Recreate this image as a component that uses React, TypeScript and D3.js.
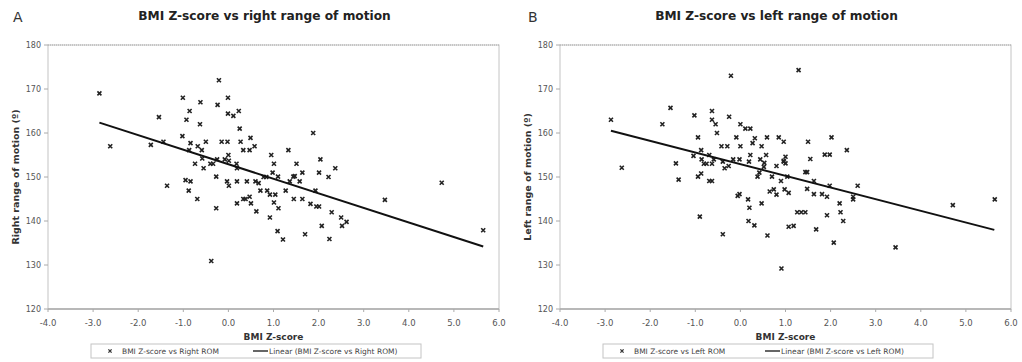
import React from "react";
import * as d3 from "d3";

// ---------- data ----------
const rightX = [-2.86,-2.62,-1.54,-1.72,-1.44,-1.02,-1.01,-0.86,-0.93,-0.62,-0.63,-0.84,-0.68,-0.59,-0.50,-0.87,-0.21,-0.24,-0.01,-0.01,0.11,0.23,0.25,-0.15,-0.02,0.27,0.49,0.33,0.47,0.58,0.00,-0.58,-0.55,-0.74,-0.40,-0.34,-0.27,-0.25,-0.08,0.01,0.18,0.19,-0.95,-0.84,-1.36,-0.03,0.01,0.19,0.41,0.60,0.67,0.78,0.84,0.95,1.01,0.98,1.10,1.33,1.36,-0.88,-0.69,-0.27,-0.38,0.19,0.33,0.38,0.47,0.50,0.62,0.71,0.86,0.92,1.04,1.01,1.11,0.92,1.09,1.21,1.27,2.04,2.37,1.51,1.64,2.01,2.22,1.47,1.44,1.58,1.93,1.45,1.64,1.82,1.95,2.01,2.29,2.50,2.62,2.07,2.52,1.70,2.24,3.47,4.73,5.65,1.88];
const rightY = [169.0,157.0,163.6,157.3,158.0,159.3,168.0,165.0,163.0,167.0,162.0,157.7,157.0,156.1,158.0,156.1,172.0,166.4,168.0,164.4,163.9,165.0,161.0,158.0,158.0,158.0,158.9,156.1,156.1,157.0,155.0,154.2,152.0,153.0,153.0,153.0,150.1,154.0,154.0,153.7,153.0,152.0,149.3,149.0,148.0,149.0,148.0,149.0,149.0,149.0,148.6,150.0,150.0,155.0,153.0,151.0,150.1,156.1,149.0,146.9,145.0,142.9,130.9,144.0,145.0,145.0,145.5,144.0,142.2,146.9,146.9,146.0,146.0,144.2,142.9,140.8,137.7,135.8,146.9,154.0,152.0,153.0,151.0,151.0,150.0,150.2,150.1,149.0,146.9,145.0,145.0,143.9,143.3,143.3,142.0,140.8,139.8,138.9,138.9,137.0,135.9,144.8,148.7,137.9,160.0];

const leftX = [-2.87,-2.63,-1.55,-1.73,-1.43,-1.37,-1.02,-0.63,-0.63,-0.55,-0.52,-0.21,-0.25,-0.94,-0.87,-1.04,-0.86,-0.69,-0.81,-0.75,-0.63,-0.59,-0.42,-0.29,-0.09,0.00,0.11,0.22,0.00,-0.39,-0.35,-0.26,-0.16,-0.02,0.22,0.19,0.32,0.27,0.47,0.59,0.57,0.85,0.96,0.44,0.53,0.52,0.80,0.96,1.00,-0.94,-0.87,-0.69,-0.63,0.42,0.38,0.70,0.90,1.04,-0.90,-0.39,-0.06,-0.02,0.17,0.20,0.18,0.31,0.47,0.60,0.65,0.74,0.80,0.98,1.07,1.07,0.91,1.29,1.50,2.02,2.36,1.87,1.98,1.00,1.55,1.44,1.48,1.63,1.98,2.60,1.48,1.63,1.81,1.92,2.20,2.50,2.50,2.22,2.28,1.26,1.35,1.44,1.92,1.18,1.68,2.07,3.44,4.71,5.64,0.96];
const leftY = [163.0,152.1,165.7,162.0,153.1,149.4,164.0,165.0,163.0,162.0,160.0,173.0,163.7,159.0,156.1,154.8,154.0,155.0,153.0,153.0,153.0,154.0,157.0,157.0,159.0,162.0,161.0,161.0,157.0,153.5,152.0,152.5,154.0,154.0,155.0,153.5,158.8,157.7,157.0,159.0,155.0,159.0,158.0,154.0,153.2,152.3,152.5,153.5,154.6,150.1,150.8,149.1,149.1,151.0,150.1,150.1,149.1,150.1,141.0,137.0,145.7,146.1,144.9,143.0,140.0,139.0,144.0,136.7,146.7,147.2,146.0,147.2,146.4,138.7,129.2,174.3,158.0,159.0,156.1,155.1,155.1,153.1,154.1,151.1,151.1,149.1,148.0,148.0,147.3,146.1,146.1,145.5,144.0,145.5,144.9,142.0,140.0,142.0,142.0,142.0,141.3,138.9,138.1,135.1,134.0,143.6,144.9,153.7];

// trend lines (slope, intercept, x-extent)
const rightTrend = { slope: -3.31, intercept: 152.9, from: -2.86, to: 5.65 };
const leftTrend = { slope: -2.65, intercept: 152.9, from: -2.87, to: 5.63 };

const xTicks = [-4, -3, -2, -1, 0, 1, 2, 3, 4, 5, 6];
const yTicks = [120, 130, 140, 150, 160, 170, 180];

const FONT = "'DejaVu Sans', Verdana, sans-serif";

type PanelProps = {
  letter: string;
  letterX: number;
  title: string;
  yLabel: string;
  seriesName: string;
  xs: number[];
  ys: number[];
  trend: { slope: number; intercept: number; from: number; to: number };
  left: number;
  right: number;
  legendX0: number;
  legendX1: number;
};

function Panel(p: PanelProps) {
  const top = 45;
  const bottom = 309;
  const x = d3.scaleLinear().domain([-4, 6]).range([p.left, p.right]);
  const y = d3.scaleLinear().domain([120, 180]).range([bottom, top]);
  const cx = (p.left + p.right) / 2;
  const lineGen = d3
    .line<number>()
    .x((d) => x(d))
    .y((d) => y(p.trend.intercept + p.trend.slope * d));
  const s = 2;
  const lx = p.legendX0;
  return (
    <g>
      <text x={p.letterX} y={22} fontSize={14} fill="#333" fontFamily={FONT}>{p.letter}</text>
      <text x={cx - 9} y={20} fontSize={12.2} fontWeight="bold" fill="#222" textAnchor="middle" fontFamily={FONT}>{p.title}</text>
      {/* plot frame */}
      <rect x={p.left} y={top} width={p.right - p.left} height={bottom - top} fill="#fff" stroke="#c4c4c4" strokeWidth={1} />
      <line x1={p.left} x2={p.right} y1={top} y2={top} stroke="#aaa" strokeDasharray="1,1" />
      <line x1={p.left} x2={p.right} y1={bottom} y2={bottom} stroke="#aaa" strokeWidth={1.5} />
      {/* y ticks */}
      {yTicks.map((t) => (
        <g key={"y" + t}>
          <line x1={p.left - 4} x2={p.left} y1={y(t)} y2={y(t)} stroke="#aaa" />
          <text x={p.left - 7} y={y(t) + 3} fontSize={8} fill="#555" textAnchor="end" fontFamily={FONT}>{t}</text>
        </g>
      ))}
      {/* x ticks */}
      {xTicks.map((t) => (
        <g key={"x" + t}>
          <line x1={x(t)} x2={x(t)} y1={bottom} y2={bottom + 3} stroke="#aaa" />
          <text x={x(t)} y={bottom + 17} fontSize={8.5} fill="#555" textAnchor="middle" fontFamily={FONT}>{t.toFixed(1)}</text>
        </g>
      ))}
      <text x={cx} y={bottom + 31} fontSize={9} fontWeight="bold" fill="#333" textAnchor="middle" fontFamily={FONT}>BMI Z-score</text>
      <text transform={`translate(${p.left - 29},${(top + bottom) / 2}) rotate(-90)`} fontSize={9.5} fontWeight="bold" fill="#333" textAnchor="middle" fontFamily={FONT}>{p.yLabel}</text>
      {/* points */}
      {p.xs.map((xv, i) => {
        const px = x(xv);
        const py = y(p.ys[i]);
        return (
          <path key={i} d={`M${px - s},${py - s}L${px + s},${py + s}M${px - s},${py + s}L${px + s},${py - s}`} stroke="#222" strokeWidth={1.6} fill="none" />
        );
      })}
      {/* trend */}
      <path d={lineGen([p.trend.from, p.trend.to]) || ""} stroke="#111" strokeWidth={2} fill="none" />
      {/* legend */}
      <rect x={lx} y={344} width={p.legendX1 - lx} height={14} fill="#fff" stroke="#c4c4c4" />
      <path d={`M${lx + 19 - 1.6},${351 - 1.6}L${lx + 19 + 1.6},${351 + 1.6}M${lx + 19 - 1.6},${351 + 1.6}L${lx + 19 + 1.6},${351 - 1.6}`} stroke="#333" strokeWidth={1.3} />
      <text x={lx + 31} y={354} fontSize={7.5} fill="#444" fontFamily={FONT}>{p.seriesName}</text>
      <line x1={lx + 162} x2={lx + 177} y1={351} y2={351} stroke="#333" strokeWidth={1.5} />
      <text x={lx + 178} y={354} fontSize={7.5} fill="#444" fontFamily={FONT}>{`Linear (${p.seriesName})`}</text>
    </g>
  );
}

export default function App() {
  return (
    <svg width={1022} height={362} style={{ position: "absolute", left: 0, top: 0, background: "#fff" }}>
      <rect width={1022} height={362} fill="#fff" />
      <Panel
        letter="A"
        letterX={13}
        title="BMI Z-score vs right range of motion"
        yLabel="Right range of motion (º)"
        seriesName="BMI Z-score vs Right ROM"
        xs={rightX}
        ys={rightY}
        trend={rightTrend}
        left={48}
        right={499}
        legendX0={91}
        legendX1={421}
      />
      <Panel
        letter="B"
        letterX={528}
        title="BMI Z-score vs left range of motion"
        yLabel="Left range of motion (º)"
        seriesName="BMI Z-score vs Left ROM"
        xs={leftX}
        ys={leftY}
        trend={leftTrend}
        left={560}
        right={1011}
        legendX0={603}
        legendX1={933}
      />
    </svg>
  );
}
